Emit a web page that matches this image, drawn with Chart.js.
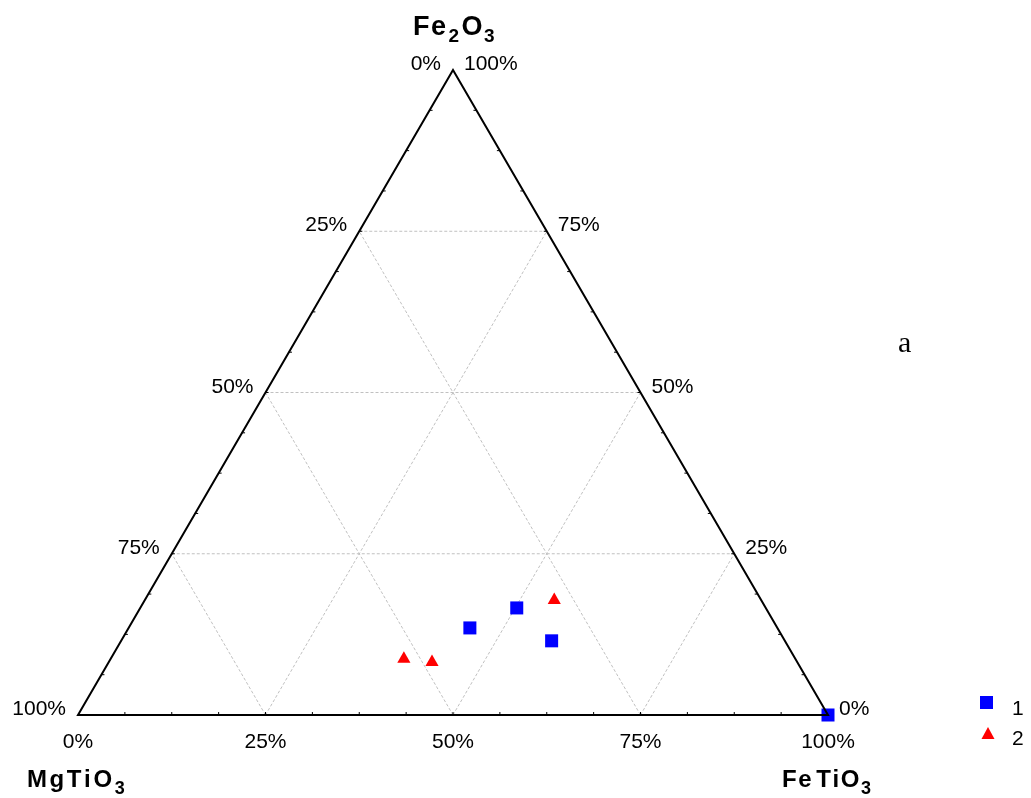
<!DOCTYPE html>
<html>
<head>
<meta charset="utf-8">
<script src="https://cdn.jsdelivr.net/npm/chart.js@4.4.0/dist/chart.umd.min.js"></script>
<style>
html,body{margin:0;padding:0;background:#fff;}
#wrap{width:1031px;height:798px;position:relative;}
</style>
</head>
<body>
<div id="wrap"><canvas id="c" width="1031" height="798"></canvas></div>
<script>
// ---- Data (percentages) ----
const seriesNames = ['1', '2'];
// Series 1 (blue squares)
const s1_FeTiO3 = [45.5, 50.2, 57.4, 100];
const s1_Fe2O3  = [13.5, 16.6, 11.5, 0];
const s1_MgTiO3 = [41.0, 33.2, 31.1, 0];
// Series 2 (red triangles)
const s2_FeTiO3 = [39.1, 43.1, 54.6];
const s2_Fe2O3  = [8.7, 8.2, 17.8];
const s2_MgTiO3 = [52.2, 48.7, 27.6];
// Axis tick labels
const tickValues = [0, 25, 50, 75, 100];
const tickLabels = ['0%', '25%', '50%', '75%', '100%'];
const gridLevels = [25, 50, 75];
const minorStep = 6.25;

function toXY(fe, b) { // fe = FeTiO3 %, b = Fe2O3 %
  return { x: (fe + b / 2) / 100, y: b / 100 };
}
function pts(fe, b) { return fe.map((v, i) => toXY(v, b[i])); }

const BLUE = '#0000FF', RED = '#FF0000';

function drawChem(ctx, parts, x, y, size, subSize, spacing) {
  let cx = x;
  for (const [txt, sub, extra] of parts) {
    cx += extra || 0;
    for (const ch of txt) {
      ctx.font = 'bold ' + (sub ? subSize : size) + 'px "Liberation Sans", Arial, sans-serif';
      ctx.fillText(ch, cx, sub ? y + 7 : y);
      cx += ctx.measureText(ch).width + spacing;
    }
  }
}

const ternary = {
  id: 'ternary',
  beforeDatasetsDraw(chart) {
    const ctx = chart.ctx, xs = chart.scales.x, ys = chart.scales.y;
    const P = (fe, b) => { const q = toXY(fe, b); return [xs.getPixelForValue(q.x), ys.getPixelForValue(q.y)]; };
    ctx.save();
    ctx.strokeStyle = '#c0c0c0';
    ctx.lineWidth = 1;
    ctx.setLineDash([3, 2]);
    const line = (a, c) => { ctx.beginPath(); ctx.moveTo(a[0], a[1]); ctx.lineTo(c[0], c[1]); ctx.stroke(); };
    for (const t of gridLevels) {
      line(P(0, t), P(100 - t, t));          // Fe2O3 = t
      line(P(t, 0), P(t, 100 - t));          // FeTiO3 = t
      line(P(100 - t, 0), P(0, 100 - t));    // MgTiO3 = t
    }
    ctx.restore();
  },
  afterDatasetsDraw(chart) {
    const ctx = chart.ctx, xs = chart.scales.x, ys = chart.scales.y;
    const P = (fe, b) => { const q = toXY(fe, b); return [xs.getPixelForValue(q.x), ys.getPixelForValue(q.y)]; };
    ctx.save();
    // triangle
    const A = P(0, 0), B = P(100, 0), C = P(0, 100);
    ctx.strokeStyle = '#000';
    ctx.lineWidth = 2;
    ctx.beginPath();
    ctx.moveTo(A[0], A[1]); ctx.lineTo(B[0], B[1]); ctx.lineTo(C[0], C[1]); ctx.closePath();
    ctx.stroke();
    // minor ticks
    ctx.lineWidth = 1;
    for (let v = minorStep; v < 100; v += minorStep) {
      let p = P(v, 0); ctx.beginPath(); ctx.moveTo(p[0], p[1]); ctx.lineTo(p[0], p[1] - 3); ctx.stroke();
      p = P(0, v); ctx.beginPath(); ctx.moveTo(p[0], p[1]); ctx.lineTo(p[0] + 3, p[1]); ctx.stroke();
      p = P(100 - v, v); ctx.beginPath(); ctx.moveTo(p[0], p[1]); ctx.lineTo(p[0] - 3, p[1]); ctx.stroke();
    }
    // tick labels
    ctx.fillStyle = '#000';
    ctx.font = '21px "Liberation Sans", Arial, sans-serif';
    ctx.textBaseline = 'alphabetic';
    tickValues.forEach((v, i) => {
      // bottom: FeTiO3
      let p = P(v, 0);
      ctx.textAlign = 'center';
      ctx.fillText(tickLabels[i], p[0], p[1] + 33);
      // left: MgTiO3 (value v at Fe2O3 = 100 - v)
      p = P(0, 100 - v);
      ctx.textAlign = 'right';
      ctx.fillText(tickLabels[i], p[0] - 12, p[1]);
      // right: Fe2O3
      p = P(100 - v, v);
      ctx.textAlign = 'left';
      ctx.fillText(tickLabels[i], p[0] + 11, p[1]);
    });
    // titles
    ctx.textAlign = 'left';
    drawChem(ctx, [['Fe', false], ['2', true, 1], ['O', false, 1], ['3', true]], C[0] - 40, 35, 27, 19, 1.5);
    drawChem(ctx, [['MgTiO', false], ['3', true]], A[0] - 51, 787, 24, 18, 2.6);
    drawChem(ctx, [['Fe', false], ['TiO', false, 3], ['3', true]], B[0] - 46, 787, 24, 18, 1.6);
    // 'a'
    ctx.font = '30px "Liberation Serif", "Times New Roman", serif';
    ctx.fillText('a', 898, 352);
    // legend
    ctx.fillStyle = BLUE;
    ctx.fillRect(980, 696, 13, 13);
    ctx.fillStyle = RED;
    ctx.beginPath(); ctx.moveTo(988, 727); ctx.lineTo(994.5, 739); ctx.lineTo(981.5, 739); ctx.closePath(); ctx.fill();
    ctx.fillStyle = '#000';
    ctx.font = '21px "Liberation Sans", Arial, sans-serif';
    ctx.fillText(chart.data.datasets[0].label, 1012, 715);
    ctx.fillText(chart.data.datasets[1].label, 1012, 745);
    ctx.restore();
  }
};

new Chart(document.getElementById('c'), {
  type: 'scatter',
  data: {
    datasets: [
      { label: seriesNames[0], data: pts(s1_FeTiO3, s1_Fe2O3), pointStyle: 'rect', pointRadius: 9.2, pointHoverRadius: 9.2,
        backgroundColor: BLUE, borderColor: BLUE, pointBorderWidth: 0, clip: false, order: 1 },
      { label: seriesNames[1], data: pts(s2_FeTiO3, s2_Fe2O3), pointStyle: 'triangle', pointRadius: 7.6, pointHoverRadius: 7.6,
        backgroundColor: RED, borderColor: RED, pointBorderWidth: 0, clip: false, order: 0 }
    ]
  },
  options: {
    responsive: false,
    animation: false,
    devicePixelRatio: 1,
    layout: { padding: { left: 78, right: 203, top: 70, bottom: 83 } },
    scales: {
      x: { type: 'linear', min: 0, max: 1, display: false },
      y: { type: 'linear', min: 0, max: 1, display: false }
    },
    plugins: { legend: { display: false }, tooltip: { enabled: false } },
    events: []
  },
  plugins: [ternary]
});
</script>
</body>
</html>
